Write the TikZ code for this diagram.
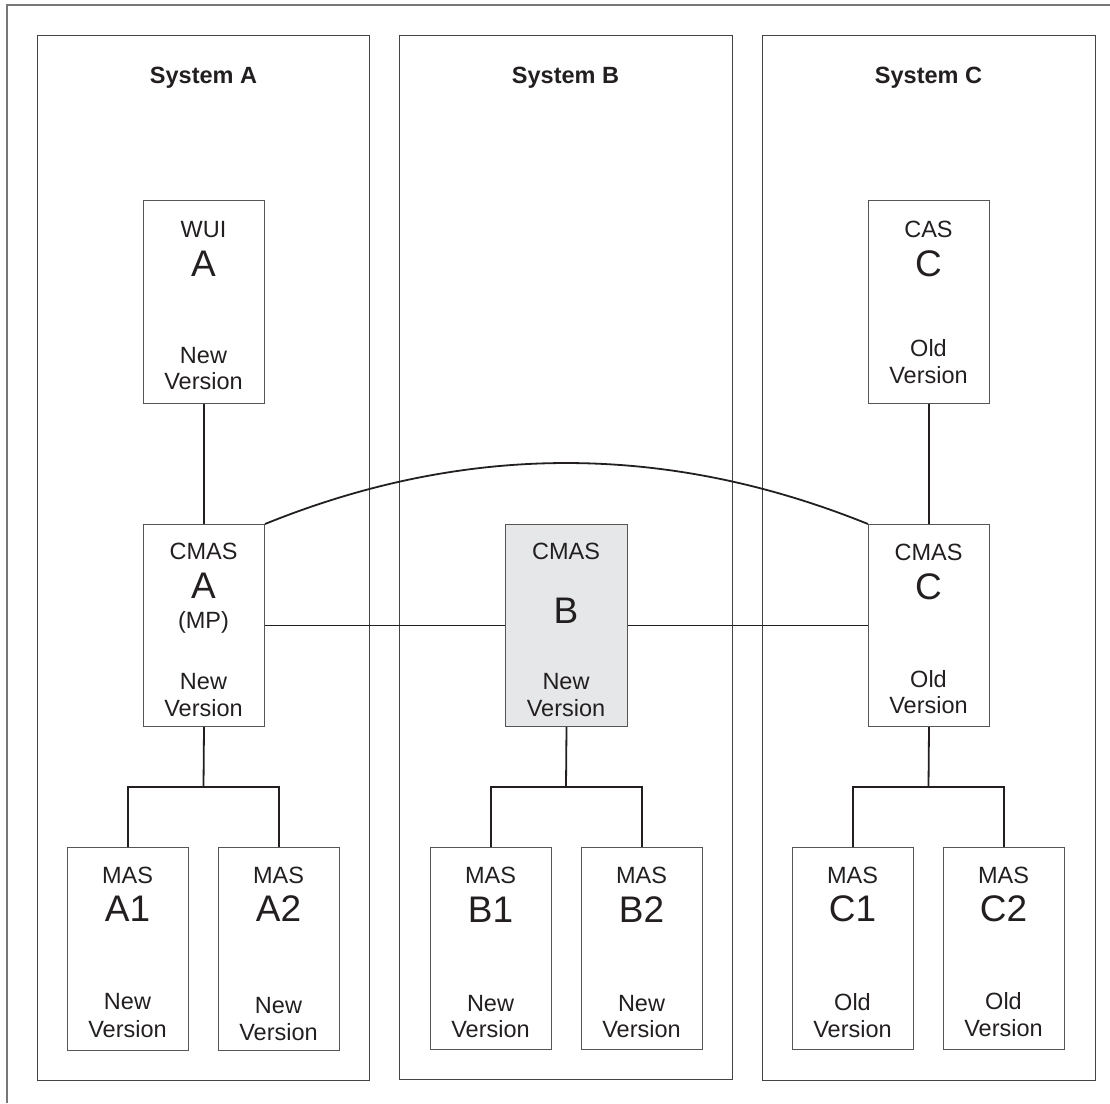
\documentclass[tikz,border=0pt]{standalone}
\usepackage{fontspec}
\setmainfont{Liberation Sans}
\definecolor{ink}{HTML}{231F20}
\definecolor{boxgray}{HTML}{555555}
\definecolor{sysgray}{HTML}{444444}
\definecolor{framegray}{HTML}{777777}
\definecolor{shade}{HTML}{E6E7E8}
\tikzset{
  box/.style={draw=boxgray, line width=1pt, inner sep=0pt, anchor=north west},
  sysbox/.style={draw=sysgray, line width=1.3pt, inner sep=0pt, anchor=north west},
  txt/.style={inner sep=0pt, anchor=base, text=ink, font=\fontsize{23.5}{27}\selectfont},
  big/.style={txt, font=\fontsize{37}{40}\selectfont},
  title/.style={txt, font=\fontsize{23.5}{27}\selectfont\bfseries},
  conn/.style={draw=ink, line width=1.8pt},
  frame/.style={draw=framegray, line width=1.6pt}
}
\newcommand\tl[4]{\node[txt] (#1) at (#2,#3) {#4};}
\newcommand\bl[4]{\node[big] (#1) at (#2,#3) {#4};}
\begin{document}
\begin{tikzpicture}[x=1pt,y=-1pt]
\useasboundingbox (0,0) rectangle (1110,1103);
\draw[frame] (7,1103) -- (7,5) -- (1110,5);

% system boxes
\node[sysbox, minimum width=332pt, minimum height=1045pt] (sysA) at (37,35) {};
\node[sysbox, minimum width=333pt, minimum height=1044pt] (sysB) at (399,35) {};
\node[sysbox, minimum width=333pt, minimum height=1045pt] (sysC) at (762,35) {};
\node[title] (tA) at (203.5,83) {System A};
\node[title] (tB) at (565.5,83) {System B};
\node[title] (tC) at (928.5,83) {System C};

% top boxes
\node[box, minimum width=121pt, minimum height=203pt] (wui) at (143,200) {};
\node[box, minimum width=121pt, minimum height=203pt] (cas) at (868,200) {};
% CMAS boxes
\node[box, minimum width=121pt, minimum height=202pt] (cmasA) at (143,524) {};
\node[box, fill=shade, minimum width=122pt, minimum height=202pt] (cmasB) at (505,524) {};
\node[box, minimum width=121pt, minimum height=202pt] (cmasC) at (868,524) {};
% MAS boxes
\node[box, minimum width=121pt, minimum height=203pt] (masA1) at (67,847) {};
\node[box, minimum width=121pt, minimum height=203pt] (masA2) at (218,847) {};
\node[box, minimum width=121pt, minimum height=202pt] (masB1) at (430,847) {};
\node[box, minimum width=121pt, minimum height=202pt] (masB2) at (581,847) {};
\node[box, minimum width=121pt, minimum height=202pt] (masC1) at (792,847) {};
\node[box, minimum width=121pt, minimum height=202pt] (masC2) at (943,847) {};

% texts
\tl{wui1}{203.5}{237}{WUI} \bl{wui2}{203.5}{276}{A}
\tl{wui3}{203.5}{363}{New} \tl{wui4}{203.5}{389}{Version}
\tl{cas1}{928.5}{237}{CAS} \bl{cas2}{928.5}{276}{C}
\tl{cas3}{928.5}{356}{Old} \tl{cas4}{928.5}{383}{Version}

\tl{ca1}{203.5}{559}{CMAS} \bl{ca2}{203.5}{598}{A} \tl{ca3}{203.5}{628}{(MP)}
\tl{ca4}{203.5}{689}{New} \tl{ca5}{203.5}{716}{Version}
\tl{cb1}{566}{559}{CMAS} \bl{cb2}{566}{623}{B}
\tl{cb4}{566}{689}{New} \tl{cb5}{566}{716}{Version}
\tl{cc1}{928.5}{560}{CMAS} \bl{cc2}{928.5}{599}{C}
\tl{cc4}{928.5}{687}{Old} \tl{cc5}{928.5}{713}{Version}

\tl{a11}{127.5}{883}{MAS} \bl{a12}{127.5}{921}{A1}
\tl{a13}{127.5}{1009}{New} \tl{a14}{127.5}{1037}{Version}
\tl{a21}{278.5}{883}{MAS} \bl{a22}{278.5}{921}{A2}
\tl{a23}{278.5}{1013}{New} \tl{a24}{278.5}{1040}{Version}
\tl{b11}{490.5}{883}{MAS} \bl{b12}{490.5}{922}{B1}
\tl{b13}{490.5}{1011}{New} \tl{b14}{490.5}{1037}{Version}
\tl{b21}{641.5}{883}{MAS} \bl{b22}{641.5}{922}{B2}
\tl{b23}{641.5}{1011}{New} \tl{b24}{641.5}{1037}{Version}
\tl{c11}{852.5}{883}{MAS} \bl{c12}{852.5}{921}{C1}
\tl{c13}{852.5}{1010}{Old} \tl{c14}{852.5}{1037}{Version}
\tl{c21}{1003.5}{883}{MAS} \bl{c22}{1003.5}{921}{C2}
\tl{c23}{1003.5}{1009}{Old} \tl{c24}{1003.5}{1036}{Version}

% connectors
\draw[conn] (wui.south) -- (cmasA.north);
\draw[conn] (cas.south) -- (cmasC.north);
\draw[conn] (cmasA.east) -- (cmasB.west);
\draw[conn] (cmasB.east) -- (cmasC.west);
\draw[conn] (cmasA.north east) .. controls (465.3,442.7) and (666.7,442.7) .. (cmasC.north west);

\coordinate (jA) at (203.5,787);
\coordinate (jB) at (566,787);
\coordinate (jC) at (928.5,787);
\draw[conn] (cmasA.south) -- (jA);
\draw[conn] (masA1.north) |- (jA) -| (masA2.north);
\draw[conn] (cmasB.south) -- (jB);
\draw[conn] (masB1.north) |- (jB) -| (masB2.north);
\draw[conn] (cmasC.south) -- (jC);
\draw[conn] (masC1.north) |- (jC) -| (masC2.north);
\end{tikzpicture}
\end{document}
